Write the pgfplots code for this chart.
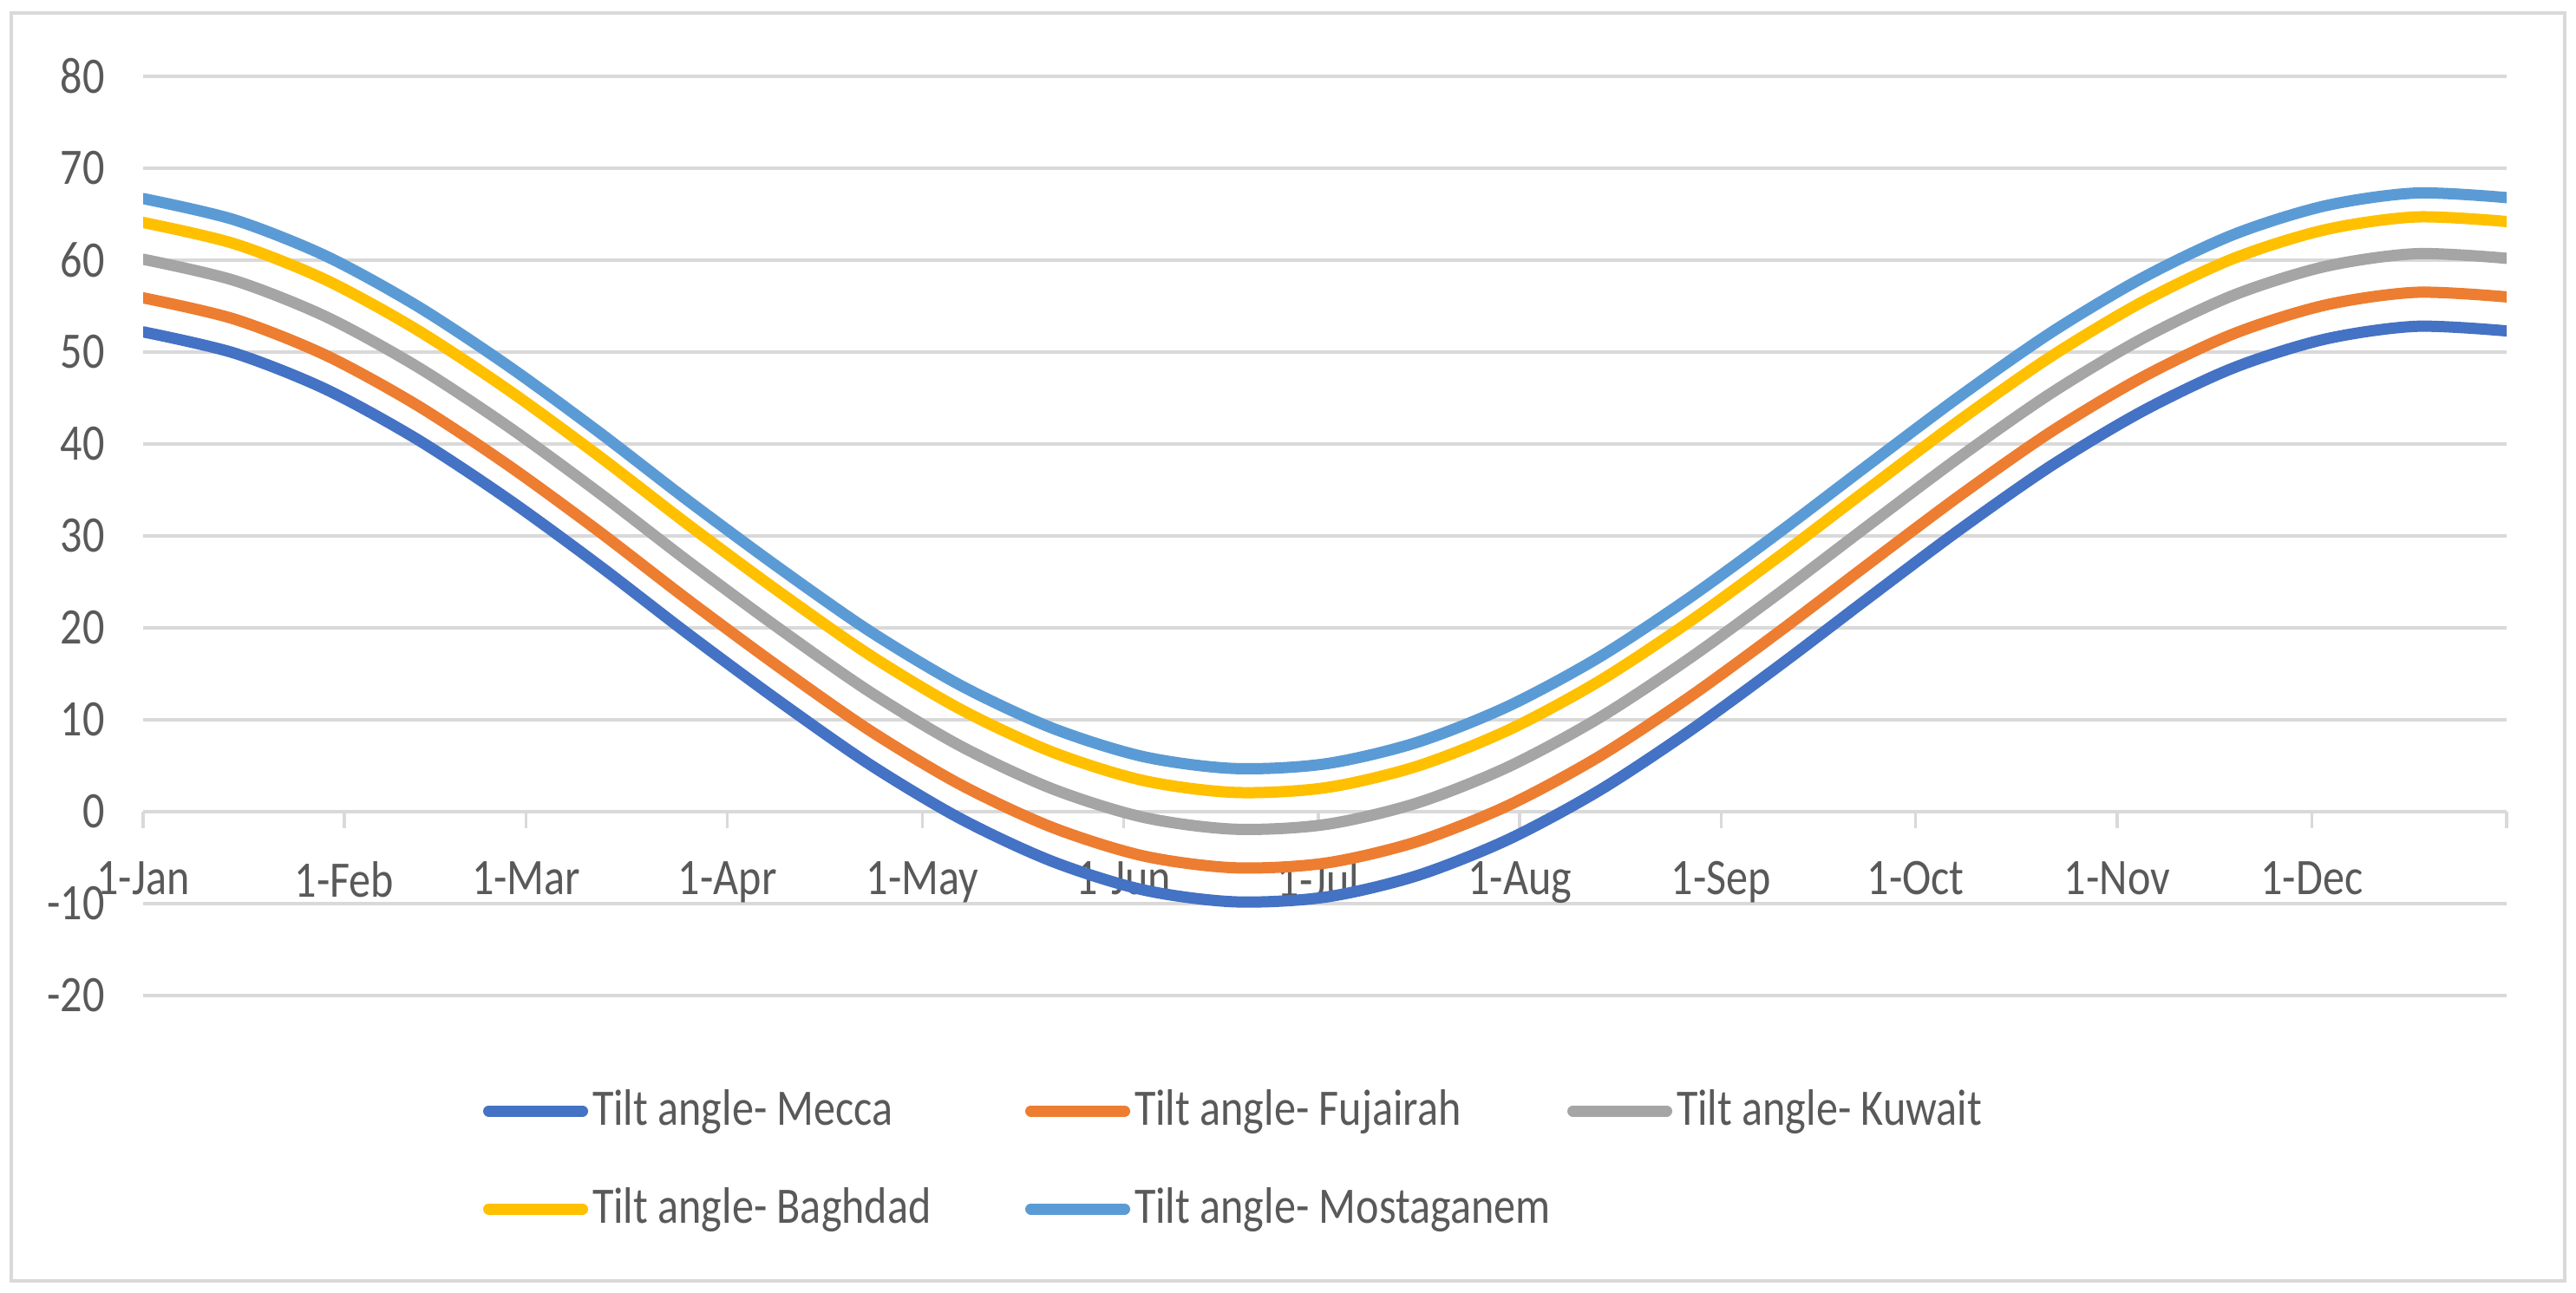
\documentclass[border=0pt]{standalone}
\usepackage{fontspec}
\setmainfont{Carlito}[FakeStretch=0.85]
\usepackage{pgfplots}
\pgfplotsset{compat=1.18}
\usepackage{pgfplotstable}

\definecolor{cmecca}{HTML}{4472C4}
\definecolor{cfuj}{HTML}{ED7D31}
\definecolor{ckuw}{HTML}{A5A5A5}
\definecolor{cbag}{HTML}{FFC000}
\definecolor{cmos}{HTML}{5B9BD5}
\definecolor{gridc}{HTML}{D9D9D9}
\definecolor{txt}{HTML}{595959}

% day of year (0 = 1 Jan), tilt angle in degrees
\pgfplotstableread{
day mecca fujairah kuwait baghdad mostaganem
0   52.2  55.9  60.1  64.1  66.7
14  49.9  53.6  57.8  61.8  64.4
28  46.0  49.7  53.9  57.9  60.5
42  40.6  44.3  48.5  52.5  55.1
56  34.1  37.8  42.0  46.0  48.6
70  26.9  30.6  34.8  38.8  41.4
84  19.3  23.0  27.2  31.2  33.8
98  12.0  15.7  19.9  23.9  26.5
112  5.1   8.8  13.0  17.0  19.6
126 -0.8   2.9   7.1  11.1  13.7
140 -5.4  -1.7   2.5   6.5   9.1
154 -8.5  -4.8  -0.6   3.4   6.0
168 -9.8  -6.1  -1.9   2.1   4.7
182 -9.3  -5.6  -1.4   2.6   5.2
196 -7.0  -3.3   0.9   4.9   7.5
210 -3.1   0.6   4.8   8.8  11.4
224  2.2   5.9  10.1  14.1  16.7
238  8.7  12.4  16.6  20.6  23.2
252 15.9  19.6  23.8  27.8  30.4
266 23.4  27.1  31.3  35.3  37.9
280 30.8  34.5  38.7  42.7  45.3
294 37.7  41.4  45.6  49.6  52.2
308 43.6  47.3  51.5  55.5  58.1
322 48.3  52.0  56.2  60.2  62.8
336 51.4  55.1  59.3  63.3  65.9
350 52.8  56.5  60.7  64.7  67.3
364 52.3  56.0  60.2  64.2  66.8
}\tilt

\begin{document}
\begin{tikzpicture}
\useasboundingbox (0,0) rectangle (594pt,298pt);
\draw[gridc, line width=0.8pt] (2.6pt,2.6pt) rectangle (591.4pt,295pt);
\begin{axis}[
  at={(33pt,68.4pt)}, anchor=south west,
  scale only axis, width=545pt, height=212pt,
  xmin=0, xmax=364, ymin=-20, ymax=80,
  axis x line=middle, axis y line=left,
  x axis line style={-, draw=gridc, line width=0.66pt},
  y axis line style={draw=none},
  hide obscured x ticks=false, hide obscured y ticks=false,
  xtick={0,31,59,90,120,151,181,212,243,273,304,334,364},
  xticklabels={1-Jan,1-Feb,1-Mar,1-Apr,1-May,1-Jun,1-Jul,1-Aug,1-Sep,1-Oct,1-Nov,1-Dec,{}},
  ytick={-20,-10,...,80},
  ymajorgrids, grid style={gridc, line width=0.66pt},
  ytick style={draw=none},
  xtick style={draw=gridc, line width=0.66pt},
  tick align=outside, major tick length=3.8pt,
  tick label style={font=\fontsize{11.8}{14}\selectfont, text=txt},
  xticklabel style={yshift=-4.2pt},
  yticklabel style={xshift=-1.5pt},
  /pgf/number format/assume math mode=true,
  every axis plot/.append style={line width=2.6pt, line cap=round, smooth},
  legend columns=3,
  legend image code/.code={\draw[#1, line cap=round] (0pt,0pt) -- (21.6pt,0pt);},
  legend style={draw=none, fill=none, at={(0.138,-0.083)}, anchor=north west,
    font=\fontsize{11.8}{14}\selectfont, text=txt,
    nodes={inner xsep=1pt, inner ysep=2pt}, /tikz/column sep=0pt, /tikz/row sep=8.9pt},
]
\addplot[cmecca] table[x=day, y=mecca] {\tilt};
\addlegendentry{\makebox[98.8pt][l]{Tilt angle- Mecca}}
\addplot[cfuj] table[x=day, y=fujairah] {\tilt};
\addlegendentry{\makebox[98.8pt][l]{Tilt angle- Fujairah}}
\addplot[ckuw] table[x=day, y=kuwait] {\tilt};
\addlegendentry{\makebox[98.8pt][l]{Tilt angle- Kuwait}}
\addplot[cbag] table[x=day, y=baghdad] {\tilt};
\addlegendentry{\makebox[98.8pt][l]{Tilt angle- Baghdad}}
\addplot[cmos] table[x=day, y=mostaganem] {\tilt};
\addlegendentry{\makebox[98.8pt][l]{Tilt angle- Mostaganem}}
\end{axis}
\end{tikzpicture}
\end{document}
